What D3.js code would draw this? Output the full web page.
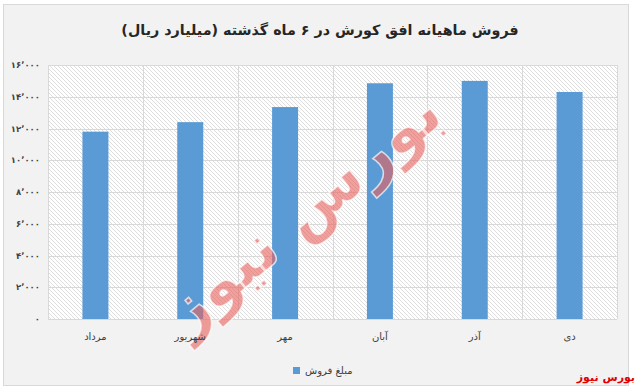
<!DOCTYPE html>
<html><head><meta charset="utf-8">
<script src="https://cdn.jsdelivr.net/npm/d3@7/dist/d3.min.js"></script>
<style>body{margin:0;background:#fff;}svg{display:block;}</style>
</head><body>
<svg id="c" width="635" height="389"></svg>
<script>
const categories = ["مرداد","شهریور","مهر","آبان","آذر","دی"];
const sales = [11800, 12400, 13350, 14850, 15000, 14300];
const yTicks = [0,2000,4000,6000,8000,10000,12000,14000,16000];
const title = "فروش ماهیانه افق کورش در ۶ ماه گذشته (میلیارد ریال)";
const seriesName = "مبلغ فروش";
const brand = "بورس نیوز";

const svg = d3.select("#c");
const font = "Tahoma, 'DejaVu Sans', 'Noto Sans', sans-serif";
const fa = n => n.toLocaleString("en-US").replace(/,/g,"٬").replace(/\d/g,d=>"۰۱۲۳۴۵۶۷۸۹"[d]);

const defs = svg.append("defs");
const pat = defs.append("pattern").attr("id","hatch").attr("patternUnits","userSpaceOnUse")
  .attr("width",4).attr("height",4);
pat.append("rect").attr("width",4).attr("height",4).attr("fill","#ffffff");
pat.append("path").attr("d","M-1,-1 L5,5 M-1,3 L1,5 M3,-1 L5,1").attr("stroke","#d4d4d4").attr("stroke-width",0.8);

// frame
svg.append("rect").attr("x",3.5).attr("y",4.5).attr("width",625).attr("height",381)
  .attr("fill","#f2f2f2").attr("stroke","#d9d9d9");

const m = {l:48, r:617, t:65, b:319};
const x = d3.scaleBand().domain(categories).range([m.l,m.r]).paddingInner(0).paddingOuter(0);
const y = d3.scaleLinear().domain([0,16000]).range([m.b,m.t]);

svg.append("rect").attr("x",m.l).attr("y",m.t).attr("width",m.r-m.l).attr("height",m.b-m.t).attr("fill","url(#hatch)");

// gridlines
svg.append("g").selectAll("line").data(yTicks).join("line")
  .attr("x1",m.l).attr("x2",m.r).attr("y1",d=>Math.round(y(d))+0.5).attr("y2",d=>Math.round(y(d))+0.5)
  .attr("stroke","#d9d9d9");
const vx = categories.map(c=>x(c)).concat([m.r]);
svg.append("g").selectAll("line").data(vx).join("line")
  .attr("x1",d=>Math.round(d)+0.5).attr("x2",d=>Math.round(d)+0.5).attr("y1",m.t).attr("y2",m.b)
  .attr("stroke","#d9d9d9");

// y axis labels
const ya = svg.append("g").attr("transform",`translate(${m.l-8},0)`)
  .call(d3.axisLeft(y).tickValues(yTicks).tickSize(0).tickPadding(0).tickFormat(fa));
ya.select(".domain").remove();
ya.selectAll("text").attr("font-family",font).attr("font-size",8.5).attr("fill","#404040").attr("font-weight","bold");

// bars
const bw = 26;
svg.append("g").selectAll("rect").data(sales).join("rect")
  .attr("x",(d,i)=>x(categories[i])+x.bandwidth()/2-bw/2)
  .attr("width",bw)
  .attr("y",d=>y(d)).attr("height",d=>y(0)-y(d))
  .attr("fill","#5b9bd5");

// watermark
svg.append("text").attr("transform","translate(305,215) rotate(-40)")
  .attr("text-anchor","middle").attr("dominant-baseline","middle")
  .attr("font-family","'DejaVu Sans', sans-serif").attr("font-weight","bold").attr("font-size",64)
  .attr("fill","#e8605c").attr("fill-opacity",0.6).attr("stroke","#ffffff").attr("stroke-opacity",0.7).attr("stroke-width",1.5)
  .text(brand);

// x axis labels
const xa = svg.append("g").attr("transform",`translate(0,${m.b+14})`)
  .call(d3.axisBottom(x).tickSize(0).tickPadding(0));
xa.select(".domain").remove();
xa.selectAll("text").attr("font-family",font).attr("font-size",10).attr("fill","#404040");

// title
svg.append("text").attr("x",320).attr("y",35).attr("text-anchor","middle")
  .attr("font-family",font).attr("font-weight","bold").attr("font-size",14.3).attr("fill","#262626")
  .attr("direction","rtl").text(title);

// legend
svg.append("rect").attr("x",293).attr("y",367).attr("width",7).attr("height",7).attr("fill","#5b9bd5");
svg.append("text").attr("x",305).attr("y",374).attr("text-anchor","start")
  .attr("font-family",font).attr("font-size",10).attr("fill","#404040").text(seriesName);

// brand
svg.append("text").attr("x",635).attr("y",381).attr("text-anchor","end")
  .attr("font-family",font).attr("font-weight","bold").attr("font-size",11).attr("fill","#e00000").text(brand);
</script>
</body></html>
